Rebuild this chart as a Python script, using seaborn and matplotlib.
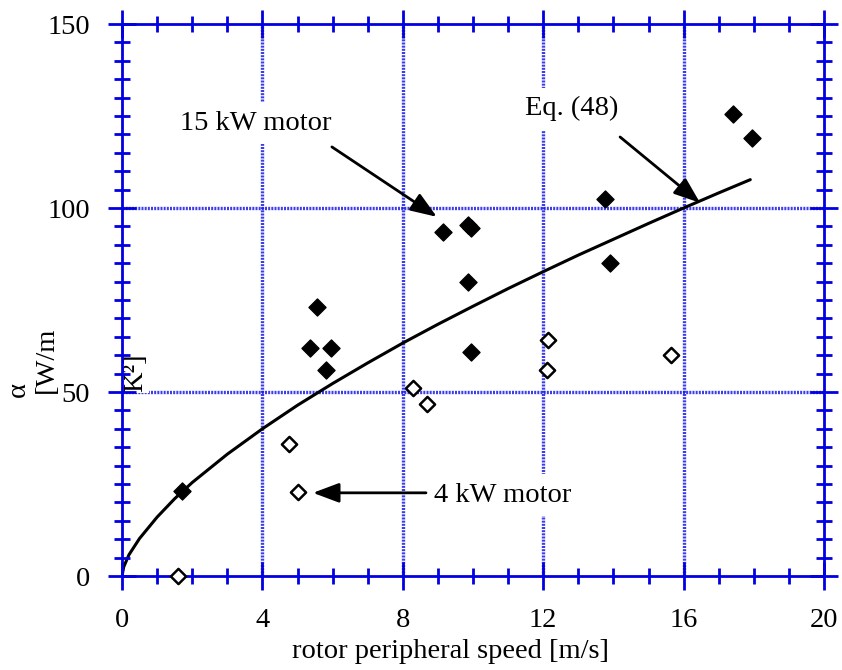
import matplotlib
matplotlib.use("Agg")
import matplotlib.pyplot as plt
import pandas as pd
import seaborn as sns

# Measured heat transfer coefficients, 15 kW motor (filled diamonds)
speed_15kw = [1.7, 5.35, 5.55, 5.95, 5.8, 9.15, 9.85, 9.95, 9.85, 9.95, 13.75, 13.9, 17.4, 17.95]
alpha_15kw = [23, 62, 73, 62, 56, 93.5, 95.5, 94.5, 80, 61, 102.5, 85, 125.5, 119]

# Measured heat transfer coefficients, 4 kW motor (open diamonds)
speed_4kw = [1.6, 4.75, 5.0, 8.3, 8.7, 12.15, 12.1, 15.65]
alpha_4kw = [0, 36, 22.7, 51, 46.8, 64, 56, 60]

# Correlation curve, Eq. (48)
speed_eq = [0, 0.05, 0.2, 0.5, 1, 1.5, 2, 3, 4, 5, 6, 7, 8, 9, 10, 11, 12, 13, 14, 15, 16, 17, 17.9]
alpha_eq = [0, 2.5, 5.8, 10.2, 16.0, 21.0, 25.4, 33.1, 40.0, 46.4, 52.3, 57.9, 63.3, 68.4,
            73.3, 78.1, 82.7, 87.2, 91.5, 95.8, 100.0, 104.1, 107.7]

x_major = [0, 4, 8, 12, 16, 20]
y_major = [0, 50, 100, 150]

sns.set_style("white")
plt.rcParams["font.family"] = ["Liberation Serif", "DejaVu Serif"]
plt.rcParams["text.color"] = "black"
plt.rcParams["xtick.labelcolor"] = "black"
plt.rcParams["ytick.labelcolor"] = "black"

BLUE = "#0000e0"
GRID = "#1a1ae8"
FS = 20.5

df15 = pd.DataFrame({"speed": speed_15kw, "alpha": alpha_15kw})
df4 = pd.DataFrame({"speed": speed_4kw, "alpha": alpha_4kw})
dfeq = pd.DataFrame({"speed": speed_eq, "alpha": alpha_eq})

fig = plt.figure(figsize=(8.42, 6.70), dpi=100)
ax = fig.add_axes([122 / 842, 94 / 670, 702 / 842, 552 / 670])
ax.set_axisbelow(False)

# dotted grid at the major ticks
for xv in x_major[1:-1]:
    ax.axvline(xv, color=GRID, lw=2.4, ls=(0, (0.6, 0.35)), alpha=0.85, zorder=0.6)
for yv in y_major[1:-1]:
    ax.axhline(yv, color=GRID, lw=2.4, ls=(0, (0.6, 0.35)), alpha=0.85, zorder=0.6)

sns.lineplot(data=dfeq, x="speed", y="alpha", ax=ax, color="black", lw=2.2,
             sort=False, estimator=None, zorder=2)
sns.scatterplot(data=df15, x="speed", y="alpha", ax=ax, marker="D", s=75,
                color="black", edgecolor="black", linewidth=1, zorder=3, clip_on=False)
sns.scatterplot(data=df4, x="speed", y="alpha", ax=ax, marker="D", s=60,
                facecolor="white", edgecolor="black", linewidth=1.8, zorder=3, clip_on=False)

ax.set_xlim(0, 20)
ax.set_ylim(0, 150)
ax.set_xticks(x_major)
ax.set_yticks(y_major)
ax.set_xticks(range(0, 21), minor=True)
ax.set_yticks(range(0, 151, 5), minor=True)
ax.set_xlabel("")
ax.set_ylabel("")

for sp in ax.spines.values():
    sp.set_visible(True)
    sp.set_color(BLUE)
    sp.set_linewidth(2)
ax.tick_params(which="major", direction="inout", length=20, width=2, color=BLUE,
               pad=13, labelsize=FS, labelcolor="black",
               top=True, right=True, bottom=True, left=True)
ax.tick_params(which="minor", direction="inout", length=11, width=2, color=BLUE,
               top=True, right=True, bottom=True, left=True)

box = dict(boxstyle="square,pad=0.3", facecolor="white", edgecolor="none")
arrow = dict(arrowstyle="-|>,head_length=1.6,head_width=0.6", color="black", lw=2,
             shrinkA=0, shrinkB=0, mutation_scale=10)

ax.text(1.65, 123, "15 kW motor", fontsize=FS, color="black", ha="left", va="center",
        bbox=box, zorder=1)
ax.annotate("", xy=(8.97, 97.6), xytext=(5.98, 116.6), arrowprops=arrow, zorder=4)

ax.text(11.48, 127, "Eq. (48)", fontsize=FS, color="black", ha="left", va="center",
        bbox=box, zorder=1)
ax.annotate("", xy=(16.47, 101.4), xytext=(14.19, 119.3), arrowprops=arrow, zorder=4)

ax.text(8.89, 22, "4 kW motor", fontsize=FS, color="black", ha="left", va="center",
        bbox=box, zorder=1)
ax.annotate("", xy=(5.44, 22.6), xytext=(8.66, 22.6), arrowprops=arrow, zorder=4)

# axis titles
fig.text(450 / 842, 1 - 651 / 670, "rotor peripheral speed [m/s]", fontsize=FS,
         color="black", ha="center", va="center")
fig.text(18 / 842, 1 - 389 / 670, "α", fontsize=FS, color="black", rotation=90,
         ha="center", va="center")
fig.text(46 / 842, 1 - 393 / 670, "[W/m", fontsize=FS, color="black", rotation=90,
         ha="center", va="bottom")
ax.text(0.02, 50, "K²]", fontsize=FS, color="black", rotation=90, ha="left", va="bottom",
        bbox=dict(boxstyle="square,pad=0.05", facecolor="white", edgecolor="none"), zorder=1)

fig.savefig("out.png", dpi=100)
